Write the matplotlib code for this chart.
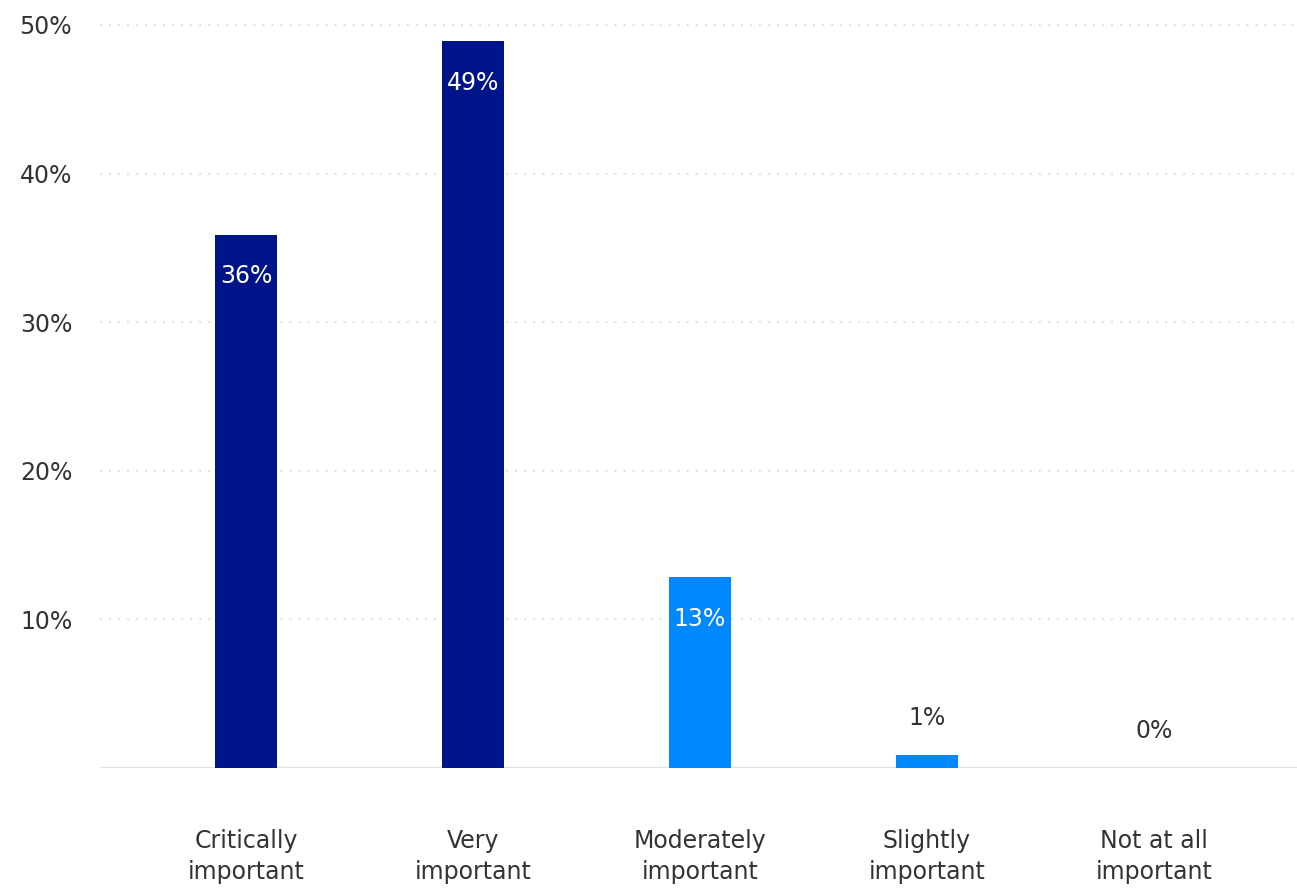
import numpy as np
import matplotlib.pyplot as plt

categories = ["Critically\nimportant", "Very\nimportant", "Moderately\nimportant",
              "Slightly\nimportant", "Not at all\nimportant"]
values = [35.9, 48.9, 12.85, 0.87, 0.0]
labels = ["36%", "49%", "13%", "1%", "0%"]
colors = ["#001489", "#001489", "#0088ff", "#0088ff", "#0088ff"]
yticks = [10, 20, 30, 40, 50]

plt.rcParams['font.family'] = ['DejaVu Sans']

fig = plt.figure(figsize=(12.97, 8.89), dpi=100)
ax = fig.add_axes([100 / 1297, 121 / 889, 1 - 100 / 1297, (768 - 25) / 889])

x = np.arange(len(categories))
ax.bar(x, values, width=0.277, color=colors, zorder=3)

fs = 17
for xi, v, lab in zip(x, values, labels):
    if v > 5:
        ax.annotate(lab, (xi, v), xytext=(0, -30), textcoords='offset points',
                    ha='center', va='center', color='white', fontsize=fs, zorder=4)
    else:
        ax.annotate(lab, (xi, v), xytext=(0, 27), textcoords='offset points',
                    ha='center', va='center', color='#333333', fontsize=fs, zorder=4)

ax.set_xlim(-0.643, 4.63)
ax.set_ylim(0, 50)
ax.set_yticks(yticks)
ax.set_yticklabels([f"{t}%" for t in yticks])
ax.set_xticks(x)
ax.set_xticklabels(categories, linespacing=1.37)

ax.grid(axis='y', color='#d9dcde', linestyle=(0, (1, 4)), linewidth=1.3, zorder=0)
for gl in ax.get_ygridlines():
    gl.set_clip_on(False)
ax.axhline(0, color='#dfe3e5', linewidth=2.5, zorder=2)

for s in ax.spines.values():
    s.set_visible(False)
ax.tick_params(axis='both', length=0, labelsize=fs, colors='#333333')
ax.tick_params(axis='y', pad=20)
ax.tick_params(axis='x', pad=44)

fig.savefig("out.png", dpi=100)
